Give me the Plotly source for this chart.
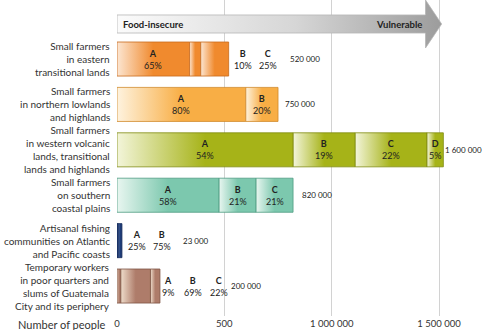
import plotly.graph_objects as go

# ---------------- data ----------------
groups = [
    "Small farmers<br>in eastern<br>transitional lands",
    "Small farmers<br>in northern lowlands<br>and highlands",
    "Small farmers<br>in western volcanic<br>lands, transitional<br>lands and highlands",
    "Small farmers<br>on southern<br>coastal plains",
    "Artisanal fishing<br>communities on Atlantic<br>and Pacific coasts",
    "Temporary workers<br>in poor quarters and<br>slums of Guatemala<br>City and its periphery",
]
totals = [520000, 750000, 1520000, 820000, 23000, 200000]   # drawn bar length
total_labels = ["520 000", "750 000", "1 600 000", "820 000", "23 000", "200 000"]
shares = [
    [65, 10, 25],
    [80, 20],
    [54, 19, 22, 5],
    [58, 21, 21],
    [25, 75],
    [9, 69, 22],
]
letters = ["A", "B", "C", "D"]
# number of segment labels written inside each bar (rest written to the right)
n_inside = [1, 2, 4, 3, 0, 0]
colors = ["#F08A2E", "#F8AE45", "#A6B318", "#7CC8AE", "#1E3C78", "#AE7C6A"]
edge_colors = ["#C8691C", "#D08A2C", "#7F8A10", "#4E9C82", "#142A58", "#7E5444"]
light_colors = ["#FCE6D2", "#FEF3DF", "#F3F5DA", "#E8F6F0", "#5A78AE", "#EEDCCB"]
tick_vals = [0, 500000, 1000000, 1500000]
tick_text = ["0", "500", "1 000 000", "1 500 000"]

# layout helpers
outside_start = [14, None, None, None, 15, 8]
outside_step = 25.5
total_shift = [60, 6, 1, 8, 60, 70]
half_h = 0.375
FONT = "Lato, Roboto, Arial"

fig = go.Figure()

# header arrow (decorative)
ax_body_end, ax_tip = 1437000, 1512000
arrow_x = [0, ax_body_end, ax_body_end, ax_tip, ax_body_end, ax_body_end, 0, 0]
arrow_y = [-0.970, -0.970, -1.30, -0.771, -0.243, -0.573, -0.573, -0.970]
fig.add_trace(go.Scatter(
    x=arrow_x, y=arrow_y, mode="lines", fill="toself",
    line=dict(color="#B5B5B5", width=0.8),
    fillgradient=dict(type="horizontal",
                      colorscale=[[0, "#FBFBFB"], [0.55, "#D6D6D6"], [1, "#9C9C9C"]]),
    hoverinfo="skip", showlegend=False))

annotations = []
for i, (g, tot, sh) in enumerate(zip(groups, totals, shares)):
    y0, y1 = i - half_h, i + half_h
    start = 0
    outside_k = 0
    for j, s in enumerate(sh):
        w = tot * s / 100
        x0, x1 = start, start + w
        fig.add_trace(go.Scatter(
            x=[x0, x1, x1, x0, x0], y=[y0, y0, y1, y1, y0],
            mode="lines", fill="toself",
            line=dict(color=edge_colors[i], width=0.8),
            fillgradient=dict(type="horizontal",
                              colorscale=[[0, light_colors[i]], [0.5, colors[i]], [1, colors[i]]]),
            hoverinfo="skip", showlegend=False))
        label = f"<b>{letters[j]}</b><br>{s}%"
        if j < n_inside[i]:
            annotations.append(dict(x=(x0 + x1) / 2, y=i, text=label, showarrow=False,
                                    xanchor="center", yanchor="middle",
                                    font=dict(size=9, color="#222", family=FONT)))
        else:
            annotations.append(dict(x=tot, y=i, text=label, showarrow=False,
                                    xanchor="center", yanchor="middle",
                                    xshift=outside_start[i] + outside_step * outside_k,
                                    font=dict(size=9, color="#222", family=FONT)))
            outside_k += 1
        start = x1
    annotations.append(dict(x=tot, y=i, text=total_labels[i], showarrow=False,
                            xanchor="left", yanchor="middle", xshift=total_shift[i],
                            borderpad=0,
                            font=dict(size=8, color="#222", family=FONT)))
    annotations.append(dict(x=0, xref="paper", y=i, text=g, showarrow=False,
                            xanchor="right", yanchor="middle", align="right", xshift=-6,
                            borderpad=0,
                            font=dict(size=10, color="#333", family=FONT)))

annotations.append(dict(x=0, y=-0.771, text="<b>Food-insecure</b>", showarrow=False,
                        xanchor="left", yanchor="middle", xshift=4,
                        font=dict(size=9.5, color="#222", family=FONT)))
annotations.append(dict(x=ax_body_end, y=-0.771, text="<b>Vulnerable</b>", showarrow=False,
                        xanchor="right", yanchor="middle", xshift=-2,
                        font=dict(size=9.5, color="#222", family=FONT)))
annotations.append(dict(x=0, xref="paper", y=0, yref="paper", text="Number of people",
                        showarrow=False, xanchor="right", yanchor="middle", xshift=-9, yshift=-8,
                        font=dict(size=11, color="#333", family=FONT)))

fig.update_layout(
    width=482, height=330,
    margin=dict(l=117, r=0, t=0, b=14),
    paper_bgcolor="white", plot_bgcolor="white",
    xaxis=dict(range=[0, 1700000], tickvals=tick_vals, ticktext=tick_text,
               showgrid=True, gridcolor="#D2D2D2", gridwidth=1, zeroline=False,
               showline=False, ticks="", fixedrange=True,
               tickfont=dict(size=9.5, color="#333", family=FONT)),
    yaxis=dict(range=[5.66, -1.30], showgrid=False, zeroline=False, showticklabels=False,
               showline=False, ticks="", fixedrange=True),
    annotations=annotations,
    showlegend=False,
)

fig.write_html("out.html")
